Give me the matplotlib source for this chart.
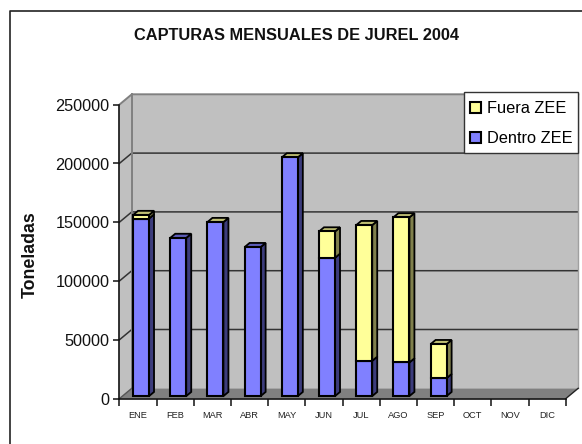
import matplotlib
matplotlib.use("Agg")
import matplotlib.pyplot as plt
from matplotlib.patches import Polygon, Rectangle

plt.rcParams['font.family'] = ['Liberation Sans', 'DejaVu Sans']

meses = ["ENE", "FEB", "MAR", "ABR", "MAY", "JUN", "JUL", "AGO", "SEP", "OCT", "NOV", "DIC"]
dentro = [151000, 134500, 148000, 126700, 203000, 117600, 30000, 28600, 15300, 0, 0, 0]
fuera = [3000, 0, 0, 0, 0, 22400, 115400, 123400, 28900, 0, 0, 0]
yticks = [0, 50000, 100000, 150000, 200000, 250000]

W, H = 582, 444
fig = plt.figure(figsize=(W / 100, H / 100), dpi=100, facecolor="white")
L, R, T, B = 119.3, 565.7, 104.7, 398.7
ax = fig.add_axes([L / W, 1 - B / H, (R - L) / W, (B - T) / H])
ax.set_xlim(0, 12)
ax.set_ylim(0, 250000)
ax.patch.set_visible(False)
for s in ax.spines.values():
    s.set_visible(False)

DX = 12.5 / ((R - L) / 12)
DY = 10.4 / ((B - T) / 250000)


def P(x, y, d):
    return (x + d * DX, y + d * DY)


def poly(pts, **kw):
    kw.setdefault("clip_on", False)
    ax.add_patch(Polygon(pts, closed=True, **kw))


# walls and floor
poly([P(0, 0, 0), P(0, 250000, 0), P(0, 250000, 1), P(0, 0, 1)], fc="#C0C0C0", ec="none", zorder=1)
poly([P(0, 0, 1), P(12, 0, 1), P(12, 250000, 1), P(0, 250000, 1)], fc="#C0C0C0", ec="none", zorder=1)
poly([P(0, 0, 0), P(12, 0, 0), P(12, 0, 1), P(0, 0, 1)], fc="#808080", ec="none", zorder=1)

# grid lines
for v in yticks[1:-1]:
    xs, ys = zip(P(0, v, 0), P(0, v, 1), P(12, v, 1))
    ax.plot(xs, ys, color="#333333", lw=1.1, clip_on=False, zorder=2, solid_joinstyle="miter")
xs, ys = zip(P(0, 250000, 0), P(0, 250000, 1), P(12, 250000, 1))
ax.plot(xs, ys, color="#808080", lw=1.4, clip_on=False, zorder=2)
xs, ys = zip(P(0, 0, 1), P(0, 250000, 1))
ax.plot(xs, ys, color="#808080", lw=1.4, clip_on=False, zorder=2)
xs, ys = zip(P(12, 0, 1), P(12, 250000, 1))
ax.plot(xs, ys, color="#A0A0A0", lw=1.0, clip_on=False, zorder=2)
xs, ys = zip(P(12, 0, 0), P(12, 0, 1))
ax.plot(xs, ys, color="#222222", lw=1.0, clip_on=False, zorder=2)
xs, ys = zip(P(0, 0, 0), P(0, 0, 1))
ax.plot(xs, ys, color="#555555", lw=1.0, clip_on=False, zorder=2)

# axis lines
ax.plot([0, 0], [0, 250000], color="#111111", lw=1.2, clip_on=False, zorder=3)
ax.plot([0, 12], [0, 0], color="#111111", lw=1.2, clip_on=False, zorder=3)

# bars
BW = 0.43
D0, D1 = 0.25, 0.65
COL_D = ("#8080FF", "#3C3C7C", "#5C5CB8")
COL_F = ("#FFFF99", "#80804C", "#BFBF73")
h_d, h_f = None, None
for i, (a, b) in enumerate(zip(dentro, fuera)):
    xc = i + 0.5
    x0, x1 = xc - BW / 2, xc + BW / 2
    z = 5 + i * 0.1
    segs = [(0, a, COL_D), (a, a + b, COL_F)]
    for lo, hi, col in segs:
        if hi <= lo:
            continue
        c = ax.bar(x0 + D0 * DX, hi - lo, width=BW, bottom=lo + D0 * DY, align="edge", color=col[0],
                   edgecolor="black", linewidth=1.5, clip_on=False, zorder=z + 0.02)
        if col is COL_D:
            h_d = c
        else:
            h_f = c
        poly([P(x1, lo, D0), P(x1, hi, D0), P(x1, hi, D1), P(x1, lo, D1)],
             fc=col[1], ec="black", lw=1.3, zorder=z)
    top = a + b
    if top > 0:
        tc = "#BFBF73" if (b > 0 or i == 2 or i == 4) else COL_D[2]
        poly([P(x0, top, D0), P(x1, top, D0), P(x1, top, D1), P(x0, top, D1)],
             fc=tc, ec="black", lw=1.3, zorder=z + 0.01)

# ticks
ax.set_yticks(yticks)
ax.set_yticklabels([str(v) for v in yticks], fontsize=11.7, color="#111111")
ax.tick_params(axis="y", length=4, width=1.1, pad=3, color="#111111")
ax.set_xticks([i + 0.5 for i in range(12)])
ax.set_xticklabels(meses, fontsize=6.7, color="#222222")
ax.tick_params(axis="x", which="major", length=0, pad=8.5)
ax.set_xticks(range(13), minor=True)
ax.tick_params(axis="x", which="minor", length=5, width=1.1, color="#111111")

# titles
fig.text(296 / W, 1 - 35 / H, "CAPTURAS MENSUALES DE JUREL 2004", ha="center", va="center",
         fontsize=11.8, fontweight="bold", color="#111111")
fig.text(30 / W, 1 - 255 / H, "Toneladas", ha="center", va="center", rotation=90,
         fontsize=12.8, fontweight="bold", color="#111111")

# legend
fig.add_artist(Rectangle((464 / W, 1 - 153.3 / H), 114 / W, 61.6 / H, transform=fig.transFigure,
                         fc="white", ec="#333333", lw=1.0, zorder=19))
leg = ax.legend([h_f, h_d], ["Fuera ZEE", "Dentro ZEE"], loc="upper left",
                bbox_to_anchor=(464 / W, 1 - 95 / H), bbox_transform=fig.transFigure,
                fontsize=11.8, frameon=False, borderpad=0.37, labelspacing=0.93, handlelength=0.68,
                handleheight=0.68, handletextpad=0.37, borderaxespad=0)
fig.legends.append(leg)
ax.legend_ = None
leg.set_zorder(20)

# chart border (top and left only reach the picture edges)
fig.add_artist(plt.Line2D([10 / W, 10 / W, 1], [0, 1 - 11 / H, 1 - 11 / H], color="#222222", lw=1.2))

fig.savefig("out.png", dpi=100)
